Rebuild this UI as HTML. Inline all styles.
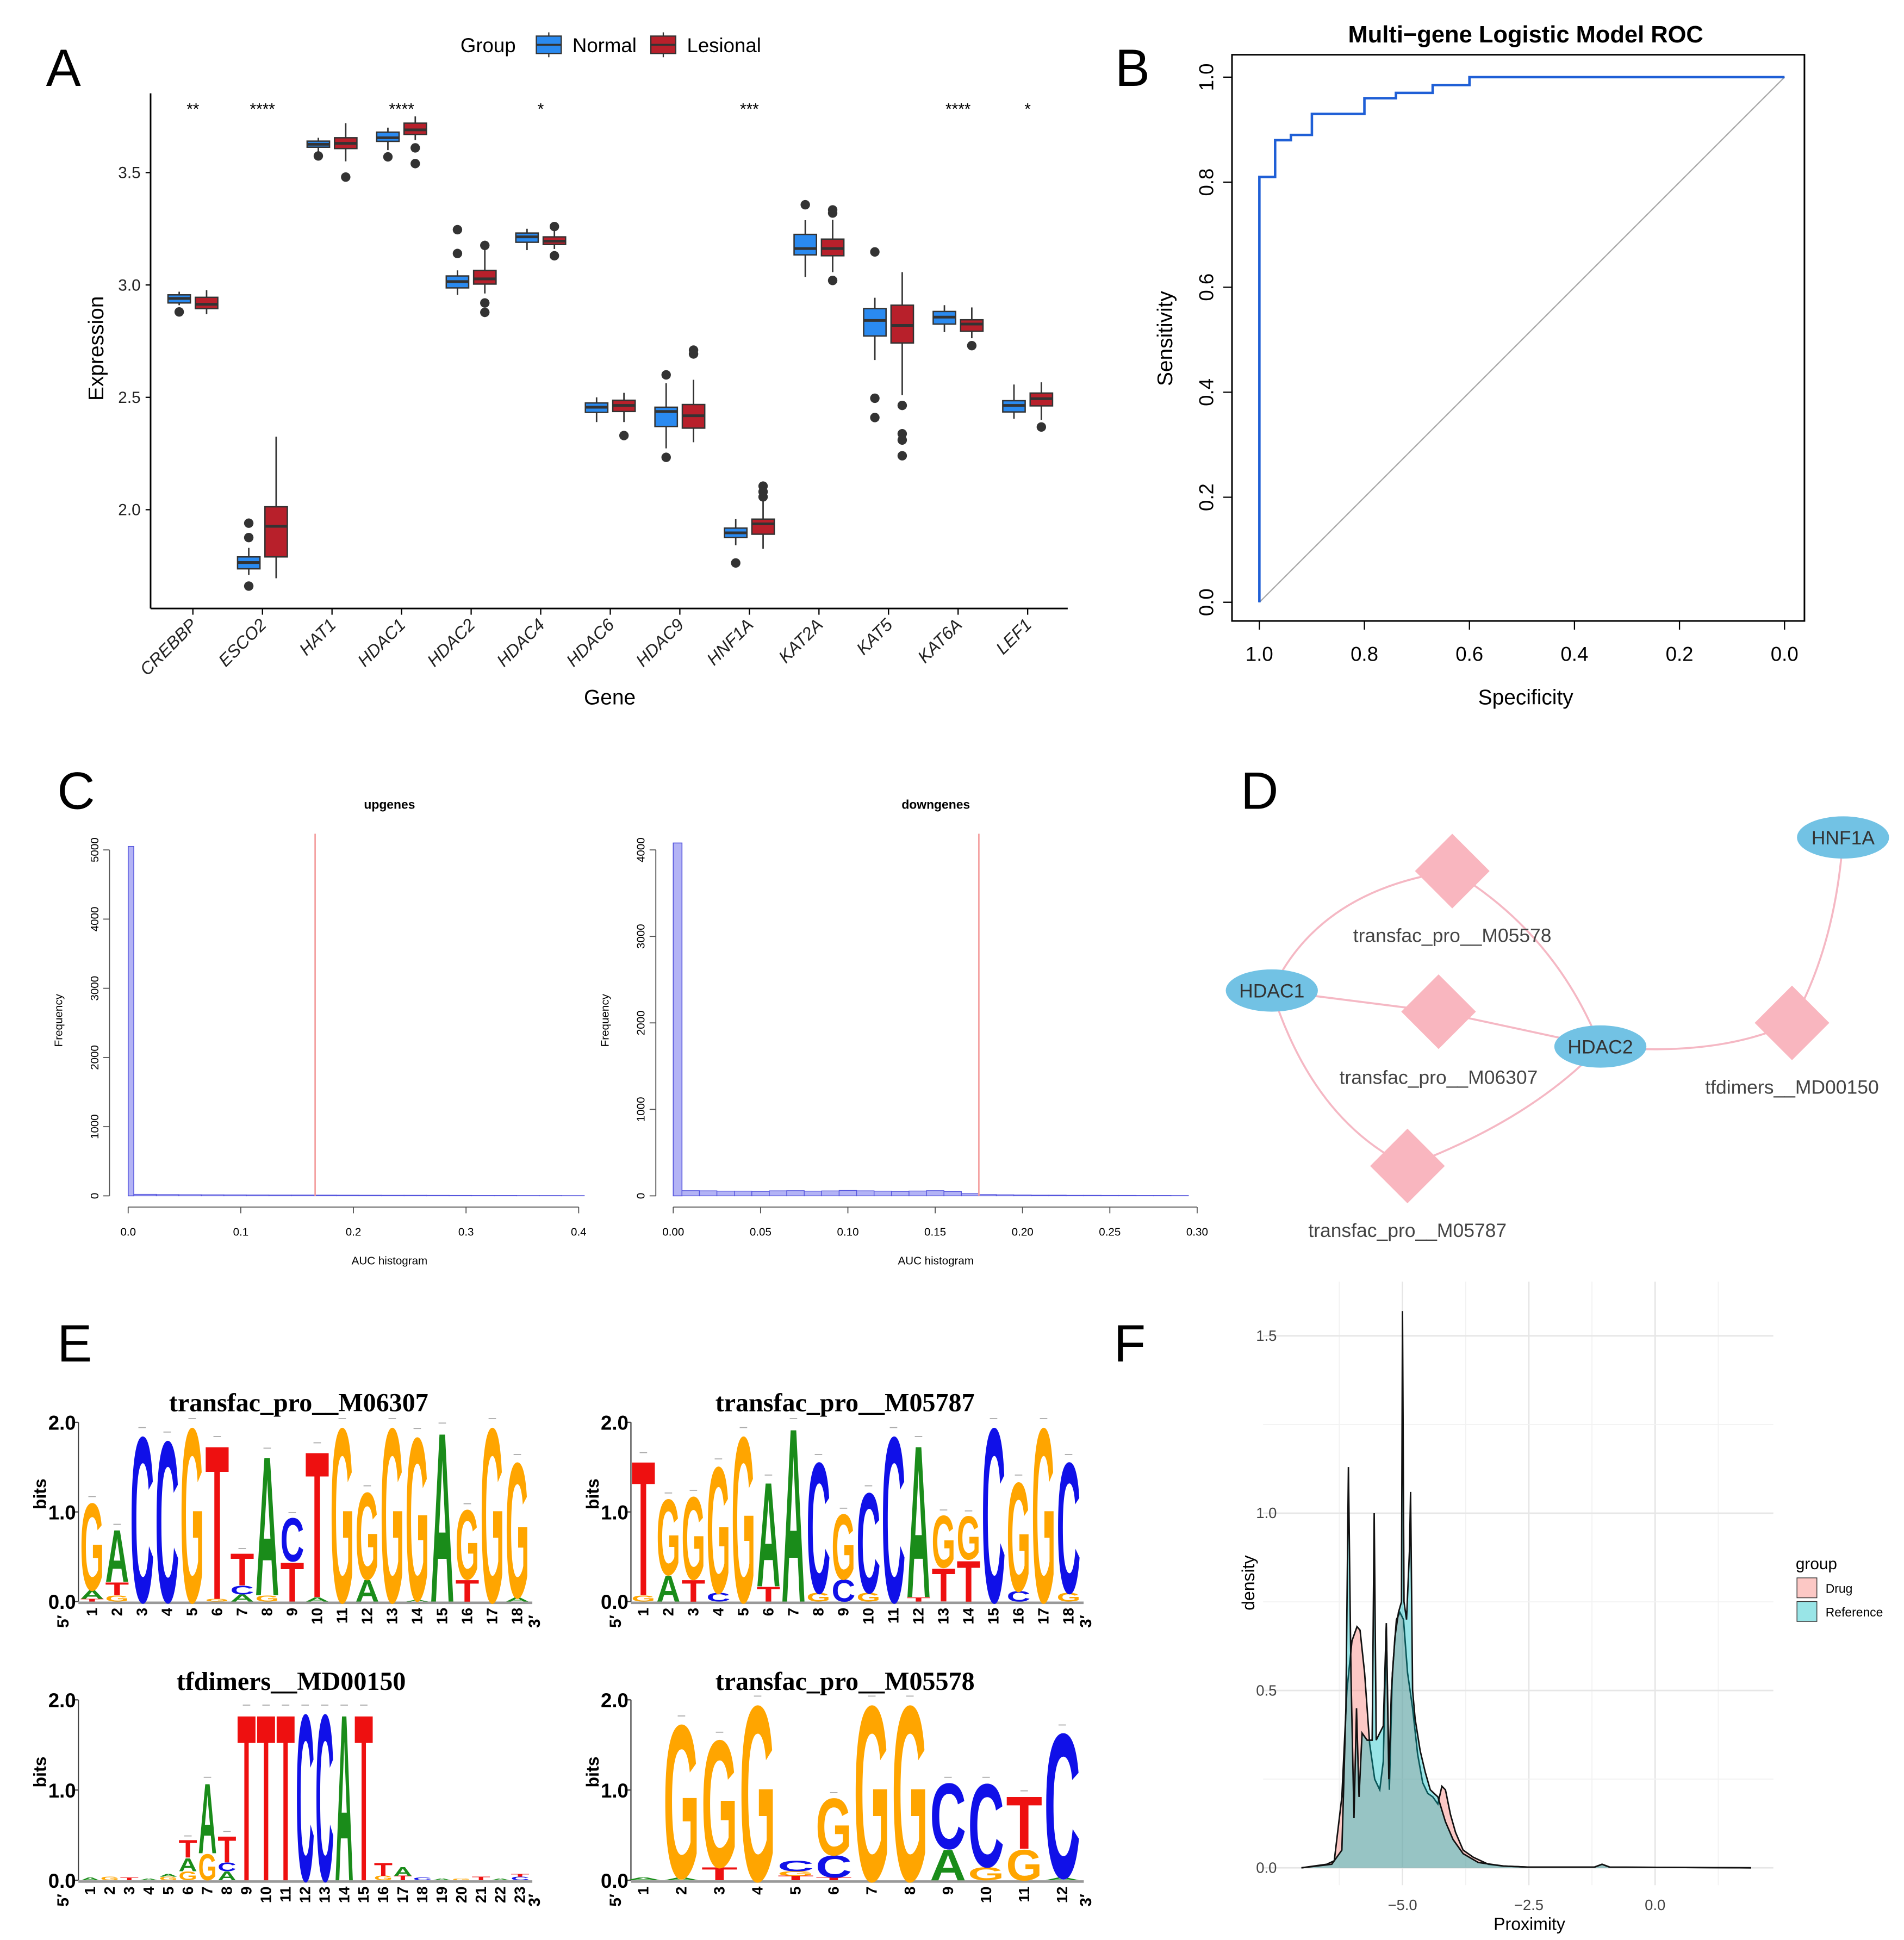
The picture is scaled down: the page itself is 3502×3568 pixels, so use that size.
<!DOCTYPE html>
<html><head><meta charset="utf-8"><style>
html,body{margin:0;padding:0;background:#fff}
svg{display:block}
text{font-family:"Liberation Sans",sans-serif}
text.serif{font-family:"Liberation Serif",serif}
</style></head><body>
<svg id="fig" width="3502" height="3568" viewBox="0 0 1530 1559" preserveAspectRatio="none" xmlns="http://www.w3.org/2000/svg">
<rect width="1530" height="1559" fill="#fff"/>
<g font-size="42" fill="#000">
<text x="37" y="69">A</text>
<text x="896" y="69">B</text>
<text x="46" y="650">C</text>
<text x="997" y="650">D</text>
<text x="46" y="1094">E</text>
<text x="895" y="1094">F</text>
</g>
<g id="pa"></g>
<g id="pb"></g>
<g id="pc"></g>
<g id="pd"></g>
<g id="pe"></g>
<g id="pf"></g>
</svg>
<script>
// ---------- Panel A data ----------
const genes=["CREBBP","ESCO2","HAT1","HDAC1","HDAC2","HDAC4","HDAC6","HDAC9","HNF1A","KAT2A","KAT5","KAT6A","LEF1"];
// [whiskerLow,q1,median,q3,whiskerHigh]
const normalStats=[[2.91,2.92,2.94,2.956,2.97],[1.71,1.737,1.765,1.79,1.83],[3.59,3.613,3.626,3.64,3.655],[3.60,3.639,3.655,3.68,3.70],[2.956,2.987,3.015,3.04,3.065],[3.155,3.19,3.214,3.231,3.25],[2.39,2.433,2.456,2.475,2.5],[2.273,2.37,2.437,2.456,2.563],[1.842,1.876,1.897,1.918,1.958],[3.036,3.134,3.162,3.225,3.288],[2.666,2.773,2.842,2.895,2.943],[2.79,2.826,2.857,2.882,2.91],[2.405,2.435,2.464,2.485,2.557]];
const lesionalStats=[[2.87,2.895,2.914,2.945,2.977],[1.695,1.79,1.926,2.013,2.325],[3.55,3.607,3.63,3.655,3.72],[3.645,3.67,3.69,3.72,3.75],[2.962,3.004,3.027,3.065,3.187],[3.16,3.18,3.195,3.214,3.27],[2.39,2.437,2.464,2.487,2.52],[2.30,2.363,2.418,2.468,2.578],[1.826,1.891,1.937,1.958,2.05],[3.057,3.13,3.162,3.204,3.29],[2.51,2.742,2.82,2.91,3.057],[2.763,2.794,2.826,2.845,2.9],[2.4,2.462,2.494,2.519,2.567]];
const normalOutliers=[[2.88],[1.94,1.876,1.66],[3.574],[3.57],[3.246,3.14],[],[],[2.60,2.233],[1.763],[3.357],[3.147,2.496,2.41],[],[]];
const lesionalOutliers=[[],[],[3.48],[3.61,3.54],[3.176,2.92,2.878],[3.26,3.13],[2.33],[2.71,2.693],[2.105,2.08,2.057],[3.334,3.32,3.02],[2.464,2.338,2.31,2.24],[2.73],[2.368]];
const sigLabels=["**","****","","****","","*","","","***","","","****","*"];
const yTicksA=[2.0,2.5,3.0,3.5];

// ---------- Panel B data ----------
const rocSpec=[1.0,1.0,0.97,0.97,0.94,0.94,0.9,0.9,0.8,0.8,0.74,0.74,0.67,0.67,0.6,0.6,0.0];
const rocSens=[0.0,0.81,0.81,0.88,0.88,0.89,0.89,0.93,0.93,0.96,0.96,0.97,0.97,0.985,0.985,1.0,1.0];
const rocTicks=[0.0,0.2,0.4,0.6,0.8,1.0];

// ---------- Panel C data ----------
const upFirstBin=5050;
const upTail=[22,18,16,15,14,13,12,12,11,10,9,8,8,7,6,5,5,4,4,3];
const upThreshold=0.166;
const downFirstBin=4080;
const downTail=[60,58,55,55,52,58,60,55,57,62,58,55,52,56,60,50,25,15,12,10,8,8,6,6,5,5,4,4,3];
const downThreshold=0.175;
const upXTicks=[0,0.1,0.2,0.3,0.4];
const upYTicks=[0,1000,2000,3000,4000,5000];
const downXTicks=[0,0.05,0.1,0.15,0.2,0.25,0.3];
const downYTicks=[0,1000,2000,3000,4000];

// ---------- Panel E data (bottom->top stacks) ----------
const logoM06307=[[["T",.03],["A",.1],["G",1.0]],[["G",.07],["T",.15],["A",.6]],[["C",1.9]],[["C",1.85]],[["G",2.0]],[["G",.03],["T",1.77]],[["A",.08],["C",.1],["T",.37]],[["G",.07],["A",1.6]],[["T",.45],["C",.5]],[["A",.05],["T",1.68]],[["G",2.0]],[["A",.25],["G",1.0]],[["G",2.0]],[["A",.02],["G",1.87]],[["A",1.95]],[["T",.25],["G",.8]],[["G",2.0]],[["A",.05],["G",1.55]]];
const logoM05787=[[["G",.07],["T",1.55]],[["A",.3],["G",.87]],[["T",.25],["G",.95]],[["C",.1],["G",1.45]],[["G",1.9]],[["T",.17],["A",1.2]],[["A",2.0]],[["G",.1],["C",1.5]],[["C",.25],["G",.75]],[["G",.1],["C",1.15]],[["C",1.9]],[["T",.05],["A",1.75]],[["T",.38],["G",.6]],[["T",.47],["G",.5]],[["C",2.0]],[["C",.12],["G",1.25]],[["G",2.0]],[["G",.1],["C",1.5]]];
const logoMD00150=[[["A",.03]],[["G",.04]],[["T",.03]],[["A",.02]],[["G",.04],["A",.03]],[["G",.1],["A",.15],["T",.2]],[["G",.3],["A",.8]],[["A",.1],["C",.1],["T",.3]],[["T",1.9]],[["T",1.9]],[["T",1.9]],[["C",1.9]],[["C",1.9]],[["A",1.9]],[["T",1.9]],[["G",.05],["T",.15]],[["T",.05],["A",.1]],[["C",.03]],[["A",.02]],[["G",.02]],[["T",.04]],[["A",.02]],[["C",.04],["T",.03]]];
const logoM05578=[[["A",.03]],[["A",.03],["G",1.75]],[["T",.15],["G",1.45]],[["G",2.0]],[["T",.05],["G",.05],["C",.12]],[["T",.03],["C",.25],["G",.65]],[["G",2.0]],[["G",2.0]],[["A",.35],["C",.75]],[["G",.15],["C",.95]],[["G",.35],["T",.6]],[["A",.03],["C",1.65]]];

// ---------- Panel F data ----------
const refX=[-7.0,-6.4,-6.2,-6.12,-6.07,-6.02,-5.96,-5.91,-5.86,-5.8,-5.7,-5.6,-5.56,-5.52,-5.45,-5.38,-5.32,-5.27,-5.22,-5.15,-5.08,-5.02,-5.0,-4.97,-4.92,-4.86,-4.84,-4.8,-4.75,-4.65,-4.55,-4.45,-4.3,-4.15,-4.0,-3.8,-3.5,-3.0,-2.5,-1.2,-1.05,-0.9,1.9];
const refY=[0,0.01,0.05,0.45,1.13,0.55,0.14,0.45,0.2,0.38,0.36,0.36,1.0,0.36,0.38,0.4,0.69,0.25,0.5,0.65,0.72,0.75,1.57,0.75,0.7,0.9,1.06,0.5,0.42,0.33,0.27,0.22,0.2,0.13,0.08,0.04,0.015,0.005,0.002,0.002,0.01,0.002,0];
const drugX=[-7.0,-6.5,-6.35,-6.2,-6.1,-6.0,-5.9,-5.84,-5.75,-5.65,-5.55,-5.45,-5.38,-5.32,-5.26,-5.2,-5.12,-5.05,-4.98,-4.9,-4.8,-4.7,-4.6,-4.5,-4.4,-4.3,-4.22,-4.15,-4.05,-3.95,-3.8,-3.6,-3.3,-3.0,-2.5,-1.2,-1.05,-0.9,1.9];
const drugY=[0,0.01,0.02,0.2,0.5,0.64,0.68,0.67,0.55,0.35,0.25,0.22,0.3,0.68,0.22,0.55,0.7,0.72,0.7,0.55,0.45,0.32,0.24,0.21,0.2,0.18,0.23,0.22,0.15,0.1,0.05,0.03,0.01,0.005,0.002,0.002,0.01,0.002,0];
const fXTicks=[-5.0,-2.5,0.0];
const fYTicks=[0.0,0.5,1.0,1.5];

const NS="http://www.w3.org/2000/svg";
function mk(parent,tag,attrs,txt){const e=document.createElementNS(NS,tag);for(const k in attrs)e.setAttribute(k,attrs[k]);if(txt!==undefined)e.textContent=txt;parent.appendChild(e);return e;}

// ===== Panel A =====
(function(){
const g=document.getElementById('pa');
const yA=v=>229-(v-3)*180.6;
const xA=i=>155+i*55.9;
let e;
e=mk(g,'line',{x1:121,y1:75,x2:121,y2:489,stroke:'#000','stroke-width':1.3});

e=mk(g,'line',{x1:121,y1:489,x2:858,y2:489,stroke:'#000','stroke-width':1.3});

yTicksA.forEach(t=>{
 mk(g,'line',{x1:117,y1:yA(t),x2:121,y2:yA(t),stroke:'#000'});
 e=mk(g,'text',{x:113,y:yA(t)+4.5,'font-size':13,'text-anchor':'end',fill:'#222'},t.toFixed(1));
 
});
e=mk(g,'text',{x:83,y:280,'font-size':17,'text-anchor':'middle',transform:'rotate(-90 83 280)'},'Expression');

e=mk(g,'text',{x:490,y:566,'font-size':17,'text-anchor':'middle'},'Gene');

function box(cx,s,outs,col,nm){
 const gg=mk(g,'g',{});
 
 mk(gg,'line',{x1:cx,y1:yA(s[0]),x2:cx,y2:yA(s[4]),stroke:'#333','stroke-width':1.2});
 mk(gg,'rect',{x:cx-9,y:yA(s[3]),width:18,height:Math.max(1,yA(s[1])-yA(s[3])),fill:col,stroke:'#333','stroke-width':1.1});
 mk(gg,'line',{x1:cx-9,y1:yA(s[2]),x2:cx+9,y2:yA(s[2]),stroke:'#333','stroke-width':2.2});
 outs.forEach(o=>mk(gg,'circle',{cx:cx,cy:yA(o),r:3.8,fill:'#333'}));
}
genes.forEach((gn,i)=>{
 const cx=xA(i);
 mk(g,'line',{x1:cx,y1:489,x2:cx,y2:494,stroke:'#000'});
 e=mk(g,'text',{x:cx+4,y:503,'font-size':14,'font-style':'italic','text-anchor':'end',transform:`rotate(-45 ${cx+4} 503)`,fill:'#222'},gn);
 
 box(cx-11,normalStats[i],normalOutliers[i],'#2a8af0','box-normal-'+gn.toLowerCase());
 box(cx+11,lesionalStats[i],lesionalOutliers[i],'#b8202b','box-lesional-'+gn.toLowerCase());
 if(sigLabels[i]){e=mk(g,'text',{x:cx,y:92,'font-size':13,'text-anchor':'middle'},sigLabels[i]);
 }
});
const lg=mk(g,'g',{});
mk(lg,'text',{x:370,y:42,'font-size':16},'Group');
[[441,'#2a8af0','Normal',460],[533,'#b8202b','Lesional',552]].forEach(([x,c,t,tx])=>{
 mk(lg,'line',{x1:x,y1:26,x2:x,y2:46,stroke:'#333'});
 mk(lg,'rect',{x:x-10,y:29,width:20,height:14,fill:c,stroke:'#333'});
 mk(lg,'line',{x1:x-10,y1:36,x2:x+10,y2:36,stroke:'#333','stroke-width':1.5});
 const le=mk(lg,'text',{x:tx,y:42,'font-size':16},t);
 
});
})();

// ===== Panel B =====
(function(){
const g=document.getElementById('pb');
const xB=v=>1434-v*422, yB=v=>484-v*422;
let e;
e=mk(g,'text',{x:1226,y:34,'font-size':19,'font-weight':'bold','text-anchor':'middle'},'Multi\u2212gene Logistic Model ROC');

e=mk(g,'rect',{x:990,y:44,width:460,height:455,fill:'none',stroke:'#000','stroke-width':1.3});

rocTicks.forEach(t=>{
 mk(g,'line',{x1:xB(t),y1:499,x2:xB(t),y2:506,stroke:'#000'});
 e=mk(g,'text',{x:xB(t),y:531,'font-size':16,'text-anchor':'middle'},t.toFixed(1));
 
 mk(g,'line',{x1:983,y1:yB(t),x2:990,y2:yB(t),stroke:'#000'});
 e=mk(g,'text',{x:975,y:yB(t),'font-size':16,'text-anchor':'middle',transform:`rotate(-90 975 ${yB(t)})`},t.toFixed(1));
 
});
e=mk(g,'text',{x:1226,y:566,'font-size':17,'text-anchor':'middle'},'Specificity');

e=mk(g,'text',{x:942,y:272,'font-size':17,'text-anchor':'middle',transform:'rotate(-90 942 272)'},'Sensitivity');

e=mk(g,'line',{x1:xB(1),y1:yB(0),x2:xB(0),y2:yB(1),stroke:'#aaa','stroke-width':1});

e=mk(g,'polyline',{points:rocSpec.map((s,i)=>xB(s)+','+yB(rocSens[i])).join(' '),fill:'none',stroke:'#1f5fd6','stroke-width':2});

})();

// ===== Panel C =====
(function(){
const g=document.getElementById('pc');
function hist(cfg){
 const {x0,x1,xmax,ymax,yTop,first,tail,tailW,thr,xt,yt,title,axisX,tcx,nm,dec}=cfg;
 const gg=mk(g,'g',{});
 const xs=v=>x0+v/xmax*(x1-x0), ys=v=>961-v/ymax*(961-yTop);
 let e=mk(gg,'text',{x:tcx,y:650,'font-size':10,'font-weight':'bold','text-anchor':'middle'},title);
 
 e=mk(gg,'rect',{x:xs(0),y:ys(first),width:xs(0.005)-xs(0),height:961-ys(first),fill:'#b3b3f5',stroke:'#5555dd','stroke-width':0.7});
 
 tail.forEach((c,i)=>{
  const a=0.005+i*tailW;
  e=mk(gg,'rect',{x:xs(a),y:ys(c),width:xs(a+tailW)-xs(a),height:961-ys(c),fill:'#b3b3f5',stroke:'#5555dd','stroke-width':0.6});
  
 });
 e=mk(gg,'line',{x1:xs(thr),y1:670,x2:xs(thr),y2:961,stroke:'#f4a0a0','stroke-width':1.2});
 
 mk(gg,'line',{x1:xs(0),y1:970,x2:xs(xt[xt.length-1]),y2:970,stroke:'#555','stroke-width':0.8});
 xt.forEach(t=>{mk(gg,'line',{x1:xs(t),y1:970,x2:xs(t),y2:975,stroke:'#555','stroke-width':0.8});
  const te=mk(gg,'text',{x:xs(t),y:993,'font-size':9,'text-anchor':'middle'},t.toFixed(dec));
  });
 mk(gg,'line',{x1:axisX,y1:ys(0),x2:axisX,y2:ys(yt[yt.length-1]),stroke:'#555','stroke-width':0.8});
 yt.forEach(t=>{mk(gg,'line',{x1:axisX-5,y1:ys(t),x2:axisX,y2:ys(t),stroke:'#555','stroke-width':0.8});
  const te=mk(gg,'text',{x:axisX-9,y:ys(t),'font-size':9,'text-anchor':'middle',transform:`rotate(-90 ${axisX-9} ${ys(t)})`},String(t));
  });
 e=mk(gg,'text',{x:axisX-38,y:820,'font-size':9,'text-anchor':'middle',transform:`rotate(-90 ${axisX-38} 820)`},'Frequency');
 
 e=mk(gg,'text',{x:tcx,y:1016,'font-size':9,'text-anchor':'middle'},'AUC histogram');
 
}
hist({x0:103,x1:465,xmax:0.4,ymax:5000,yTop:683,first:upFirstBin,tail:upTail,tailW:0.02,thr:upThreshold,xt:upXTicks,yt:upYTicks,title:'upgenes',axisX:88,tcx:313,nm:'c-upgenes-histogram',dec:1});
hist({x0:541,x1:962,xmax:0.3,ymax:4000,yTop:683,first:downFirstBin,tail:downTail,tailW:0.01,thr:downThreshold,xt:downXTicks,yt:downYTicks,title:'downgenes',axisX:527,tcx:752,nm:'c-downgenes-histogram',dec:2});
})();

// ===== Panel D =====
(function(){
const g=document.getElementById('pd');
const edges=["M1022,796 Q1060,715 1167,700","M1167,700 Q1250,750 1286,841","M1022,796 L1156,813","M1156,813 L1286,841","M1022,796 Q1055,900 1131,937","M1131,937 Q1230,900 1286,841","M1286,841 Q1380,850 1440,822","M1440,822 Q1475,760 1481,673"];
edges.forEach(d=>{const e=mk(g,'path',{d:d,fill:'none',stroke:'#f5b8c4','stroke-width':1.6});
 });
const diamonds=[[1167,700,'transfac_pro__M05578',757],[1156,813,'transfac_pro__M06307',871],[1440,822,'tfdimers__MD00150',879],[1131,937,'transfac_pro__M05787',994]];
diamonds.forEach(([x,y,t,ty])=>{
 const gg=mk(g,'g',{});
 mk(gg,'polygon',{points:`${x},${y-30} ${x+30},${y} ${x},${y+30} ${x-30},${y}`,fill:'#f9b6bf'});
 mk(gg,'text',{x:x,y:ty,'font-size':15.5,'text-anchor':'middle',fill:'#444'},t);
});
[[1481,673,'HNF1A'],[1022,796,'HDAC1'],[1286,841,'HDAC2']].forEach(([x,y,t])=>{
 const gg=mk(g,'g',{});
 mk(gg,'ellipse',{cx:x,cy:y,rx:37,ry:17,fill:'#72c2e4'});
 mk(gg,'text',{x:x,y:y+5.5,'font-size':15.5,'text-anchor':'middle',fill:'#333'},t);
});
})();

// ===== Panel E =====
(function(){
const g=document.getElementById('pe');
const COL={A:'#1a8c1a',C:'#1010e8',G:'#ffa500',T:'#ee1010'};
function logo(cfg){
 const {data,axisX,c1,step,y0,y2,title,tx,ty,nm}=cfg;
 const gg=mk(g,'g',{});
 const ys=v=>y0-v/2*(y0-y2);
 let e=mk(gg,'text',{x:tx,y:ty,'font-size':21,'font-weight':'bold','text-anchor':'middle','class':'serif'},title);
 
 mk(gg,'line',{x1:axisX,y1:y0,x2:axisX,y2:y2,stroke:'#444','stroke-width':1});
 [0,1,2].forEach(t=>{mk(gg,'line',{x1:axisX-4,y1:ys(t),x2:axisX,y2:ys(t),stroke:'#444'});
  const te=mk(gg,'text',{x:axisX-2,y:ys(t)+6,'font-size':16,'font-weight':'bold','text-anchor':'end'},t.toFixed(1));
  });
 e=mk(gg,'text',{x:axisX-26,y:ys(1.2),'font-size':14,'font-weight':'bold','text-anchor':'middle',transform:`rotate(-90 ${axisX-26} ${ys(1.2)})`},'bits');
 
 const xEnd=c1+(data.length-1)*step+step/2+2;
 mk(gg,'line',{x1:axisX,y1:y0+1,x2:xEnd,y2:y0+1,stroke:'#999','stroke-width':2});
 e=mk(gg,'text',{x:axisX-8,y:y0+16,'font-size':13,'font-weight':'bold','text-anchor':'middle',transform:`rotate(-90 ${axisX-8} ${y0+16})`},'5\u2032');
 e=mk(gg,'text',{x:xEnd+6,y:y0+16,'font-size':13,'font-weight':'bold','text-anchor':'middle',transform:`rotate(-90 ${xEnd+6} ${y0+16})`},'3\u2032');
 data.forEach((stack,i)=>{
  const cx=c1+i*step;
  const pe=mk(gg,'text',{x:cx+4,y:y0+5,'font-size':12,'font-weight':'bold','text-anchor':'end',transform:`rotate(-90 ${cx+4} ${y0+5})`},String(i+1));
  
  let cum=0;
  stack.forEach(([L,b])=>{
   const base=ys(cum), h=ys(cum)-ys(cum+b); cum+=b;
   if(h<0.3) return;
   const w=step*0.95;
   const le=mk(gg,'text',{x:0,y:0,'font-size':100,'font-weight':'bold',fill:COL[L],textLength:w,lengthAdjust:'spacingAndGlyphs',transform:`translate(${cx-w/2},${base}) scale(1,${h/72})`},L);
   
  });
  if(cum>0.3) mk(gg,'line',{x1:cx-3,y1:ys(cum)-3,x2:cx+3,y2:ys(cum)-3,stroke:'#aaa','stroke-width':0.8});
 });
}
logo({data:logoM06307,axisX:63,c1:74,step:20.1,y0:1287,y2:1143,title:'transfac_pro__M06307',tx:240,ty:1134,nm:'logo-m06307'});
logo({data:logoM05787,axisX:507,c1:517,step:20.1,y0:1287,y2:1143,title:'transfac_pro__M05787',tx:679,ty:1134,nm:'logo-m05787'});
logo({data:logoMD00150,axisX:63,c1:72.5,step:15.7,y0:1511,y2:1366,title:'tfdimers__MD00150',tx:234,ty:1358,nm:'logo-md00150'});
logo({data:logoM05578,axisX:507,c1:517,step:30.6,y0:1511,y2:1366,title:'transfac_pro__M05578',tx:679,ty:1358,nm:'logo-m05578'});
})();

// ===== Panel F =====
(function(){
const g=document.getElementById('pf');
const xs=v=>1127+(v+5)*40.6, ys=v=>1501-v*285;
let e;
for(let v=-6.25;v<=1.3;v+=1.25){mk(g,'line',{x1:xs(v),y1:1030,x2:xs(v),y2:1515,stroke:(Math.abs(v%2.5)<0.01)?'#e6e6e6':'#f2f2f2','stroke-width':(Math.abs(v%2.5)<0.01)?1.2:0.8});}
for(let v=0;v<=1.62;v+=0.25){mk(g,'line',{x1:1015,y1:ys(v),x2:1425,y2:ys(v),stroke:(Math.abs(v%0.5)<0.01)?'#e6e6e6':'#f2f2f2','stroke-width':(Math.abs(v%0.5)<0.01)?1.2:0.8});}
function area(X,Y,fill,nm){
 const pts=X.map((x,i)=>xs(x)+','+ys(Y[i])).join(' ');
 const a=mk(g,'polygon',{points:`${xs(X[0])},${ys(0)} ${pts} ${xs(X[X.length-1])},${ys(0)}`,fill:fill,'fill-opacity':0.4});
 
 const l=mk(g,'polyline',{points:pts,fill:'none',stroke:'#111','stroke-width':1.2});
 
}
area(drugX,drugY,'#f8766d','f-drug-density');
area(refX,refY,'#00bfc4','f-reference-density');
fXTicks.forEach(t=>{e=mk(g,'text',{x:xs(t),y:1535,'font-size':12,'text-anchor':'middle',fill:'#444'},t.toFixed(1).replace('-','\u2212'));
 });
fYTicks.forEach(t=>{e=mk(g,'text',{x:1026,y:ys(t)+4,'font-size':12,'text-anchor':'end',fill:'#444'},t.toFixed(1));
 });
e=mk(g,'text',{x:1229,y:1551,'font-size':14,'text-anchor':'middle'},'Proximity');

e=mk(g,'text',{x:1008,y:1272,'font-size':14,'text-anchor':'middle',transform:'rotate(-90 1008 1272)'},'density');

const lg=mk(g,'g',{});
mk(lg,'text',{x:1443,y:1261,'font-size':13},'group');
mk(lg,'rect',{x:1444,y:1268,width:16,height:16,fill:'#f8766d','fill-opacity':0.4,stroke:'#333','stroke-width':0.6});
mk(lg,'rect',{x:1444,y:1287,width:16,height:16,fill:'#00bfc4','fill-opacity':0.4,stroke:'#333','stroke-width':0.6});
e=mk(lg,'text',{x:1467,y:1280,'font-size':10},'Drug');
e=mk(lg,'text',{x:1467,y:1299,'font-size':10},'Reference');
})();
</script>
</body></html>
